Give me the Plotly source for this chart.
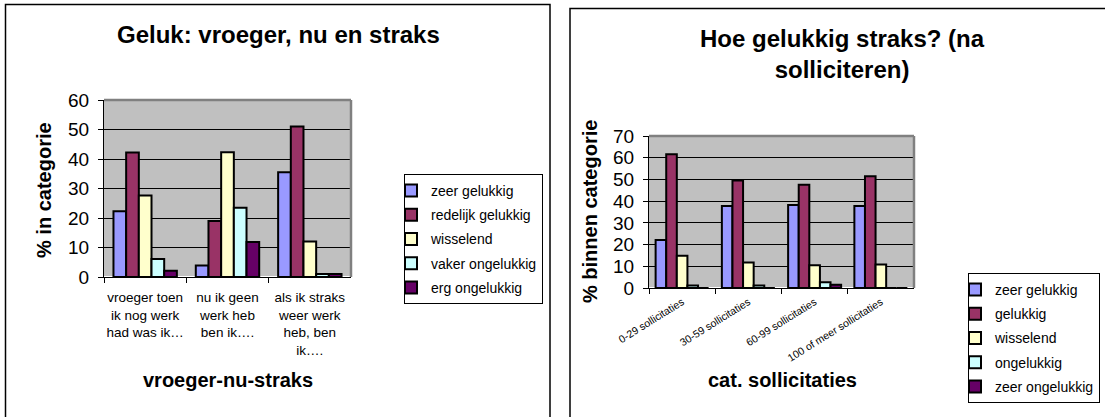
import plotly.graph_objects as go

W, H = 1105, 417
FONT = "Liberation Sans, Arial, sans-serif"

# ---------------- data: left chart ----------------
left_categories = [
    "vroeger toen<br>ik nog werk<br>had was ik…",
    "nu ik geen<br>werk heb<br>ben ik….",
    "als ik straks<br>weer werk<br>heb, ben<br>ik….",
]
left_series_names = ["zeer gelukkig", "redelijk gelukkig", "wisselend",
                     "vaker ongelukkig", "erg ongelukkig"]
left_zeer_gelukkig = [22.3, 3.9, 35.5]
left_redelijk_gelukkig = [42.2, 19.0, 51.0]
left_wisselend = [27.6, 42.3, 12.0]
left_vaker_ongelukkig = [6.1, 23.5, 1.0]
left_erg_ongelukkig = [2.1, 11.9, 1.0]
left_yticks = [0, 10, 20, 30, 40, 50, 60]

# ---------------- data: right chart ----------------
right_categories = ["0-29 sollicitaties", "30-59 sollicitaties",
                    "60-99 sollicitaties", "100 of meer sollicitaties"]
right_series_names = ["zeer gelukkig", "gelukkig", "wisselend",
                      "ongelukkig", "zeer ongelukkig"]
right_zeer_gelukkig = [22.1, 37.8, 38.2, 37.8]
right_gelukkig = [61.6, 49.5, 47.5, 51.5]
right_wisselend = [14.9, 11.7, 10.5, 10.8]
right_ongelukkig = [1.1, 1.1, 2.6, 0.0]
right_zeer_ongelukkig = [0.0, 0.0, 1.5, 0.0]
right_yticks = [0, 10, 20, 30, 40, 50, 60, 70]

colors = ["#9999FF", "#993366", "#FFFFCC", "#CCFFFF", "#660066"]

left_values = [left_zeer_gelukkig, left_redelijk_gelukkig, left_wisselend,
               left_vaker_ongelukkig, left_erg_ongelukkig]
right_values = [right_zeer_gelukkig, right_gelukkig, right_wisselend,
                right_ongelukkig, right_zeer_ongelukkig]

fig = go.Figure()

LW = 0.154   # bar width (category units), left
RW = 0.16    # bar width, right

for i, (name, vals) in enumerate(zip(left_series_names, left_values)):
    fig.add_trace(go.Bar(
        x=left_categories, y=vals, name=name, xaxis="x", yaxis="y",
        width=LW, offset=-2.5 * LW + i * LW,
        marker=dict(color=colors[i], line=dict(color="black", width=2)),
        legend="legend", legendgroup="L%d" % i,
    ))

for i, (name, vals) in enumerate(zip(right_series_names, right_values)):
    fig.add_trace(go.Bar(
        x=right_categories, y=vals, name=name, xaxis="x2", yaxis="y2",
        width=RW, offset=-2.5 * RW + i * RW,
        marker=dict(color=colors[i], line=dict(color="black", width=2)),
        legend="legend2", legendgroup="R%d" % i,
    ))

axis_common = dict(showline=True, linecolor="black", linewidth=1,
                   ticks="outside", ticklen=5, tickcolor="black",
                   fixedrange=True, automargin=False)

fig.update_layout(
    width=W, height=H, autosize=False,
    margin=dict(l=0, r=0, t=0, b=0, autoexpand=False),
    paper_bgcolor="white", plot_bgcolor="#C0C0C0",
    barmode="overlay",
    font=dict(family=FONT, color="black"),
    xaxis=dict(domain=[104 / W, 351 / W], anchor="y", type="category",
               tickson="boundaries", showgrid=False, tickangle=0,
               tickfont=dict(size=13.5), ticklabelstandoff=8, **axis_common),
    yaxis=dict(domain=[1 - 277 / H, 1 - 100 / H], anchor="x",
               range=[0, 60], tickvals=left_yticks,
               showgrid=True, gridcolor="black", gridwidth=1,
               tickfont=dict(size=19), ticklabelstandoff=5, **axis_common),
    xaxis2=dict(domain=[649 / W, 914 / W], anchor="y2", type="category",
                tickson="boundaries", showgrid=False, tickangle=-32,
                tickfont=dict(size=10.5), ticklabelstandoff=3, **axis_common),
    yaxis2=dict(domain=[1 - 288 / H, 1 - 136 / H], anchor="x2",
                range=[0, 70], tickvals=right_yticks,
                showgrid=True, gridcolor="black", gridwidth=1,
                tickfont=dict(size=19), ticklabelstandoff=5, **axis_common),
    legend=dict(x=404 / W, y=1 - 174 / H, xanchor="left", yanchor="top",
                bordercolor="black", borderwidth=1, bgcolor="white",
                font=dict(size=14), tracegroupgap=3, indentation=-14),
    legend2=dict(x=968 / W, y=1 - 273 / H, xanchor="left", yanchor="top",
                 bordercolor="black", borderwidth=1, bgcolor="white",
                 font=dict(size=14), tracegroupgap=3, indentation=-14),
)

shapes = []
# panel borders
shapes.append(dict(type="rect", xref="paper", yref="paper",
                   x0=5.5 / W, x1=550 / W, y0=-0.1, y1=1 - 4.5 / H,
                   line=dict(color="black", width=1.5), layer="below"))
shapes.append(dict(type="rect", xref="paper", yref="paper",
                   x0=570 / W, x1=1.1, y0=-0.1, y1=1 - 8.5 / H,
                   line=dict(color="black", width=1.5), layer="below"))
# gray top/right plot-area edges
for xa, ya in (("x", "y"), ("x2", "y2")):
    shapes.append(dict(type="line", xref=xa + " domain", yref=ya + " domain",
                       x0=0, x1=1, y0=1, y1=1,
                       line=dict(color="#808080", width=2.5), layer="above"))
    shapes.append(dict(type="line", xref=xa + " domain", yref=ya + " domain",
                       x0=1, x1=1, y0=0, y1=1,
                       line=dict(color="#808080", width=2.5), layer="above"))
fig.update_layout(shapes=shapes)

def ann(text, x, y, size, angle=0):
    return dict(text=text, x=x / W, y=1 - y / H, xref="paper", yref="paper",
                showarrow=False, xanchor="center", yanchor="middle",
                textangle=angle, font=dict(size=size, family=FONT, color="black"))

fig.update_layout(annotations=[
    ann("<b>Geluk: vroeger, nu en straks</b>", 278, 34, 24),
    ann("<b>% in categorie</b>", 44, 190, 20, -90),
    ann("<b>vroeger-nu-straks</b>", 228, 380, 20),
    ann("<b>Hoe gelukkig straks? (na<br>solliciteren)</b>", 842, 54, 24),
    ann("<b>% binnen categorie</b>", 590, 212, 20, -90),
    ann("<b>cat. sollicitaties</b>", 782, 380, 20),
])

fig.write_html("out.html", config={"displayModeBar": False},
               post_script="document.body.style.margin='0';"
                           "document.body.style.overflow='hidden';")
